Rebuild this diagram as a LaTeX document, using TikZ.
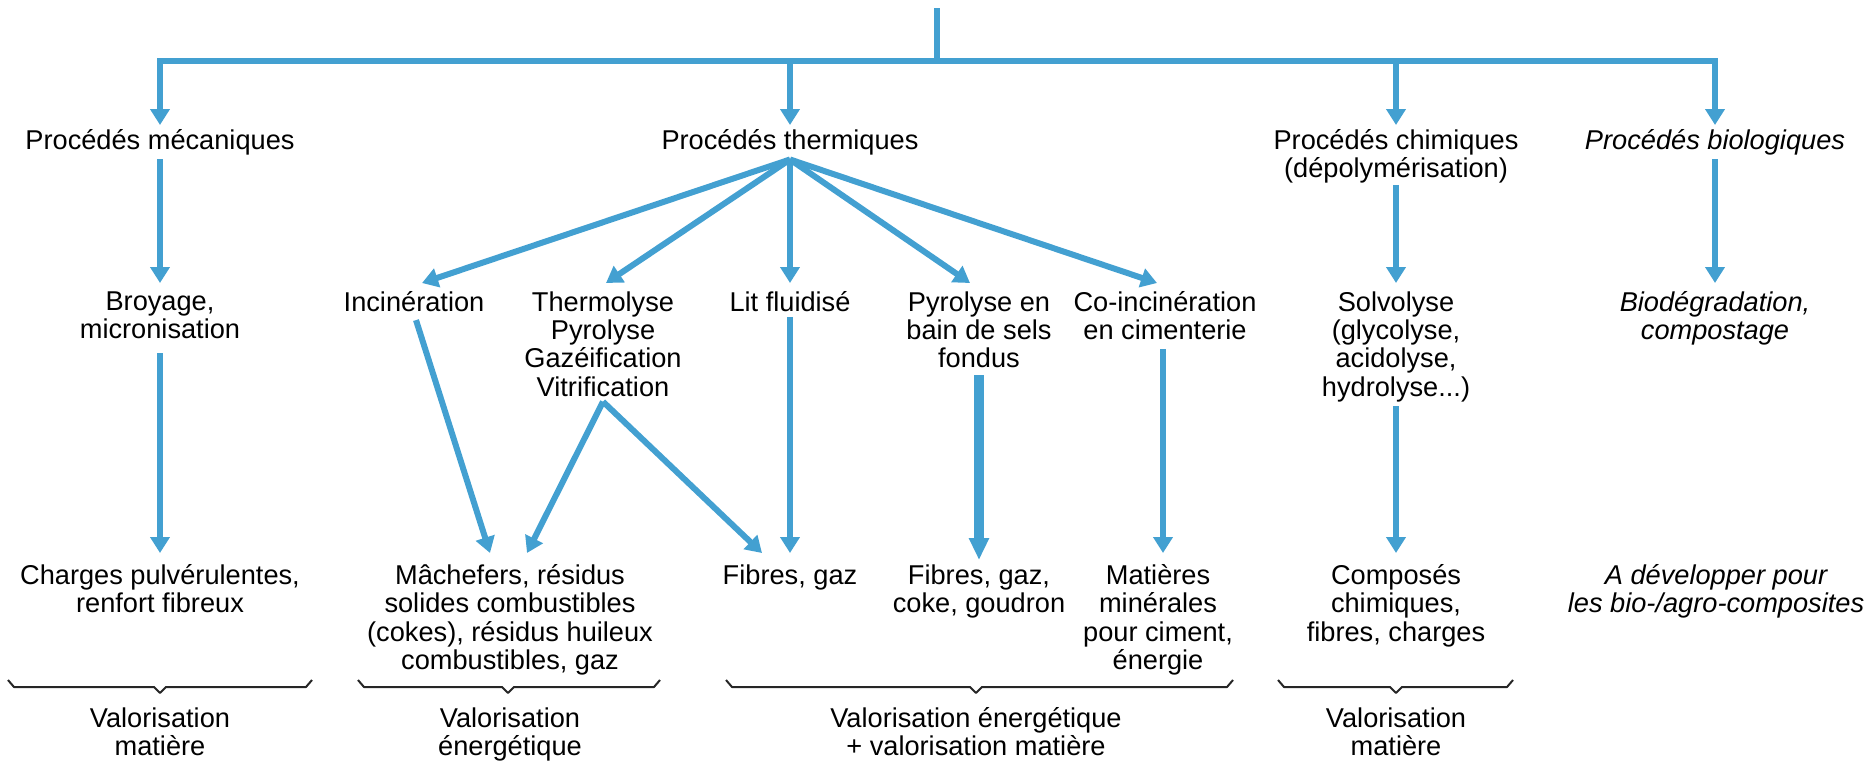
\documentclass[tikz,border=0pt]{standalone}
\usepackage{fontspec}
\setmainfont{Liberation Sans}
\usetikzlibrary{arrows.meta,calc}
\definecolor{blu}{RGB}{67,160,209}
\begin{document}
\begin{tikzpicture}[x=0.5pt,y=-0.5pt,
  txt/.style={anchor=north,inner sep=0pt,align=center,font=\fontsize{13.6pt}{14.15pt}\selectfont},
  itx/.style={txt,font=\fontsize{13.6pt}{14.15pt}\selectfont\itshape},
  line/.style={draw=blu,line width=3pt},
  arr/.style={line,-{Triangle[length=8pt,width=9.5pt]}},
  bigarr/.style={draw=blu,line width=5pt,-{Triangle[length=11pt,width=9.5pt]}},
  brc/.style={draw=black!85,line width=1pt,line join=round}]
\useasboundingbox (0,0) rectangle (1872,761);

% level 1
\node[txt] (mec)    at (160,129)  {Procédés mécaniques};
\node[txt] (therm0) at (790,129)  {Procédés thermiques};
\node[txt] (chim)   at (1396,129) {Procédés chimiques\\(dépolymérisation)};
\node[itx] (bio)    at (1715,129) {Procédés biologiques};

% level 2
\node[txt] (broy)  at (160,291)  {Broyage,\\micronisation};
\node[txt] (incin) at (414,291)  {Incinération};
\node[txt] (therm) at (603,291)  {Thermolyse\\Pyrolyse\\Gazéification\\Vitrification};
\node[txt] (lit)   at (790,291)  {Lit fluidisé};
\node[txt] (pyro)  at (979,291)  {Pyrolyse en\\bain de sels\\fondus};
\node[txt] (coinc) at (1165,291) {Co-incinération\\en cimenterie};
\node[txt] (solv)  at (1396,291) {Solvolyse\\(glycolyse,\\acidolyse,\\hydrolyse...)};
\node[itx] (biod)  at (1715,291) {Biodégradation,\\compostage};

% level 3
\node[txt] (charg) at (160,564)  {Charges pulvérulentes,\\renfort fibreux};
\node[txt] (mach)  at (510,564)  {Mâchefers, résidus\\solides combustibles\\(cokes), résidus huileux\\combustibles, gaz};
\node[txt] (fib)   at (790,564)  {Fibres, gaz};
\node[txt] (fgc)   at (979,564)  {Fibres, gaz,\\coke, goudron};
\node[txt] (mat)   at (1158,564) {Matières\\minérales\\pour ciment,\\énergie};
\node[txt] (comp)  at (1396,564) {Composés\\chimiques,\\fibres, charges};
\node[itx] (adev)  at (1716,564) {A développer pour\\les bio-/agro-composites};

% bottom labels
\node[txt] (v1) at (160,707)  {Valorisation\\matière};
\node[txt] (v2) at (510,707)  {Valorisation\\énergétique};
\node[txt] (v3) at (976,707)  {Valorisation énergétique\\+ valorisation matière};
\node[txt] (v4) at (1396,707) {Valorisation\\matière};

% top distribution
\coordinate (src) at (937,8);
\coordinate (hub) at (937,61);
\draw[line] (src) -- (hub);
\draw[arr] ([xshift=1.5pt]hub) -| ($(mec.north)+(0,-4)$);
\draw[arr] ([xshift=-1.5pt]hub) -| ($(bio.north)+(0,-4)$);
\draw[arr] (therm0.north |- hub) -- ($(therm0.north)+(0,-4)$);
\draw[arr] (chim.north |- hub) -- ($(chim.north)+(0,-4)$);

% level 1 -> 2
\draw[arr] ($(mec.south)+(0,4)$) -- ($(broy.north)+(0,-8)$);
\draw[arr] ($(chim.south)+(0,1)$) -- ($(solv.north)+(0,-8)$);
\draw[arr] ($(bio.south)+(0,4)$) -- ($(biod.north)+(0,-8)$);
\foreach \n/\dx in {incin/8, therm/3, lit/0, pyro/-9, coinc/-8}
  \draw[arr] ($(therm0.south)+(0,4)$) -- ($(\n.north)+(\dx,-8)$);

% level 2 -> 3
\draw[arr] ($(broy.south)+(0,14)$) -- ($(charg.north)+(0,-11)$);
\draw[arr] ($(incin.south)+(2,8)$) -- ($(mach.north)+(-20,-11)$);
\draw[arr] ($(therm.south)+(0,5)$) -- ($(mach.north)+(17,-11)$);
\draw[arr] ($(therm.south)+(0,5)$) -- ($(fib.north)+(-28,-11)$);
\draw[arr] ($(lit.south)+(0,5)$) -- ($(fib.north)+(0,-11)$);
\draw[bigarr] ($(pyro.south)+(0,7)$) -- ($(fgc.north)+(0,-4)$);
\draw[arr] ($(coinc.south)+(-2,9)$) -- ($(mat.north)+(5,-11)$);
\draw[arr] ($(solv.south)+(0,4)$) -- ($(comp.north)+(0,-11)$);

% braces
\foreach \a/\m/\b in {8/160/312, 358/508/660, 726/976/1233, 1278/1396/1513}
  \draw[brc] (\a,680) -- (\a+6,687) -- (\m-6,687) -- (\m,693) -- (\m+6,687) -- (\b-6,687) -- (\b,680);
\end{tikzpicture}
\end{document}
